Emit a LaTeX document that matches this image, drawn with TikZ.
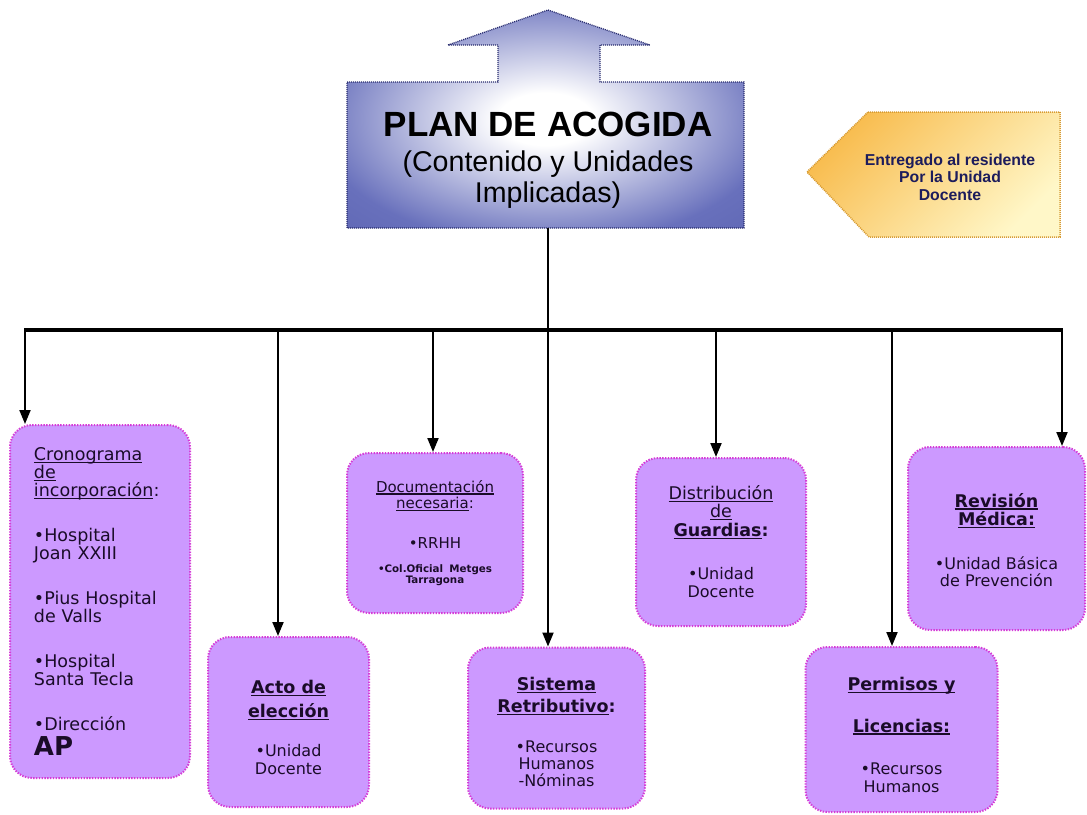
\documentclass[tikz,border=0pt]{standalone}
\usepackage{fontspec}
\setmainfont{DejaVu Sans}
\newfontfamily\arialfont{Liberation Sans}
\usetikzlibrary{arrows.meta}

\definecolor{planblue}{RGB}{104,112,188}
\definecolor{plandeep}{RGB}{84,92,170}
\definecolor{planedge}{RGB}{40,44,110}
\definecolor{boxfill}{RGB}{204,153,255}
\definecolor{boxedge}{RGB}{214,60,214}
\definecolor{calloutorange}{RGB}{248,188,78}
\definecolor{calloutpale}{RGB}{255,247,200}
\definecolor{calloutedge}{RGB}{215,155,50}
\definecolor{navy}{RGB}{28,28,92}
\definecolor{boxtext}{RGB}{26,12,40}

\newcommand{\ulin}[1]{\leavevmode\setbox0\hbox{#1}\rlap{\rule[-2.6pt]{\wd0}{1.3pt}}\box0}
\newcommand{\hdfont}{\bfseries\fontsize{17.5}{20}\selectfont}
\newcommand{\lift}[1]{\rule{0pt}{#1}}
\pgfdeclareradialshading{planglow}{\pgfpoint{0bp}{0bp}}{color(0bp)=(white); color(6bp)=(white); color(29bp)=(planblue); color(50bp)=(plandeep)}

\begin{document}
\begin{tikzpicture}[x=1pt, y=-1pt,
		conn/.style={line width=2pt, -{Triangle[width=11pt, length=14pt]}},
		item/.style={draw=boxedge, fill=boxfill, line width=2pt, dash pattern=on 1.4pt off 1.4pt,
			rounded corners=22pt, text=boxtext, align=center, inner sep=0pt}]
		\fill[white] (0,0) rectangle (1087,814);
		\useasboundingbox (0,0) rectangle (1087,814);
		
		\shadedraw[shading=planglow, draw=planedge, line width=1.3pt, dash pattern=on 1pt off 1pt]
			(347,82) -- (498,82) -- (498,45) -- (448,45) -- (548,10) -- (650,45) -- (600,45)
			-- (600,82) -- (744,82) -- (744,228) -- (347,228) -- cycle;
		\node[font=\arialfont\fontsize{28.6}{31}\selectfont, align=center] (plan) at (548,160)
			{{\fontsize{35}{35}\selectfont\bfseries PLAN DE ACOGIDA}\\[4pt]
			(Contenido y Unidades\\Implicadas)};
		\coordinate (planfoot) at (548,228);
		
		\shadedraw[top color=calloutorange, bottom color=calloutpale, shading angle=45,
			draw=calloutedge, line width=1.5pt, dash pattern=on 1pt off 1pt]
			(868,112) -- (1060,112) -- (1060,237) -- (869,237) -- (807,172) -- cycle;
		\node[font=\arialfont\bfseries\fontsize{15.8}{17.5}\selectfont, text=navy, align=center] (entrega) at (950,177)
			{Entregado al residente\\Por la Unidad\\Docente};
		
		\node[item, minimum width=180pt, minimum height=353pt, text width=132pt, align=left,
			font=\fontsize{17.5}{18}\selectfont] (crono) at (100,601.5)
			{\ulin{Cronograma}\\ \ulin{de}\\ \ulin{incorporación}:\\[27pt]
			•Hospital\\ Joan XXIII\\[27pt]
			•Pius Hospital\\ de Valls\\[27pt]
			•Hospital\\ Santa Tecla\\[27pt]
			•Dirección\\[5pt] {\fontsize{26}{26}\selectfont\bfseries AP}};
		\node[item, minimum width=161pt, minimum height=170pt, font=\fontsize{16}{18}\selectfont] (acto) at (288.5,722)
			{\hdfont\lift{24pt}\ulin{Acto de}\\[6pt] \hdfont\ulin{elección}\\[21pt]
			•Unidad\\ Docente};
		\node[item, minimum width=176pt, minimum height=160pt, font=\fontsize{15}{16.5}\selectfont] (docu) at (435,533)
			{\ulin{Documentación}\\ \ulin{necesaria}:\\[23pt]
			•RRHH\\[8pt]
			{\bfseries\fontsize{10.3}{11}\selectfont •Col.Oficial\hspace{0.6em}Metges}\\[-5.5pt]
			{\bfseries\fontsize{10.3}{11}\selectfont Tarragona}};
		\node[item, minimum width=177pt, minimum height=161pt, font=\fontsize{16}{17}\selectfont] (sistema) at (556.5,728)
			{\hdfont\lift{22pt}\ulin{Sistema}\\[5pt] \hdfont\ulin{Retributivo}:\\[23pt]
			•Recursos\\ Humanos\\ -Nóminas};
		\node[item, minimum width=170pt, minimum height=168pt, font=\fontsize{16}{18}\selectfont] (guardias) at (721,542)
			{{\fontsize{17.5}{18}\selectfont\ulin{Distribución}}\\ {\fontsize{17.5}{18}\selectfont\ulin{de}}\\[1pt]
			\hdfont\ulin{Guardias}:\\[25pt]
			•Unidad\\ Docente};
		\node[item, minimum width=192pt, minimum height=165pt, font=\fontsize{16}{17.5}\selectfont] (permisos) at (901.5,729.5)
			{\hdfont\lift{24pt}\ulin{Permisos y}\\[24pt] \hdfont\ulin{Licencias:}\\[25pt]
			•Recursos\\ Humanos};
		\node[item, minimum width=177pt, minimum height=183pt, font=\fontsize{16}{17.5}\selectfont] (revision) at (996.5,538.5)
			{\hdfont\lift{17pt}\ulin{Revisión}\\[1pt] \hdfont\ulin{Médica:}\\[26pt]
			•Unidad Básica\\ de Prevención};
		
		\coordinate (b1) at (25,330);
		\coordinate (b2) at (278,330);
		\coordinate (b3) at (433,330);
		\coordinate (b5) at (716,330);
		\coordinate (b6) at (892,330);
		\coordinate (b7) at (1062,330);
		
		\draw[line width=3.5pt] ([xshift=-1pt]b1) -- ([xshift=1pt]b7);
		\draw[conn] (planfoot) -- (planfoot |- sistema.north);
		\foreach \p/\b in {b1/crono, b2/acto, b3/docu, b5/guardias, b6/permisos, b7/revision}
			\draw[conn] (\p) -- (\p |- \b.north);
	\end{tikzpicture}
\end{document}
